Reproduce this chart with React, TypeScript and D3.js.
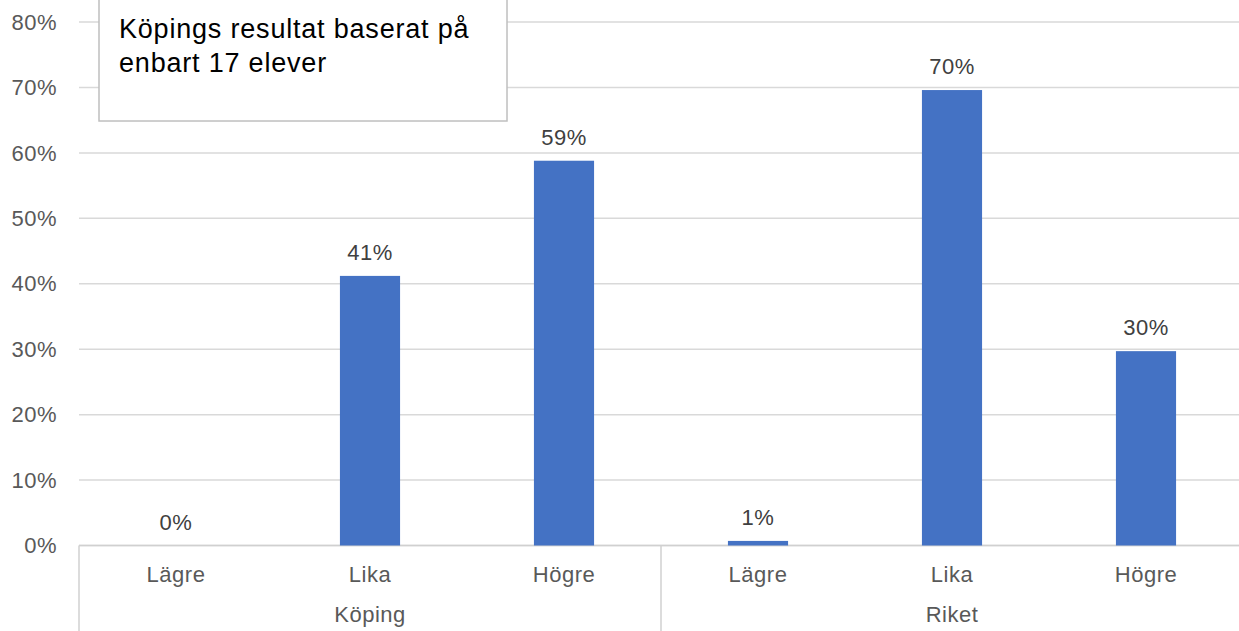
import React from 'react';
import * as d3 from 'd3';

// chart data
const groups = ['Köping', 'Riket'];
const levels = ['Lägre', 'Lika', 'Högre'];
const kopingValues = [0, 0.412, 0.588];
const riketValues = [0.007, 0.696, 0.297];
const yTicks = [0, 0.1, 0.2, 0.3, 0.4, 0.5, 0.6, 0.7, 0.8];
const noteLines = ['Köpings resultat baserat på', 'enbart 17 elever'];

const WIDTH = 1239;
const HEIGHT = 631;
const FONT = '"Liberation Sans", Arial, sans-serif';

const App: React.FC = () => {
  const rows = groups.flatMap((g, gi) =>
    levels.map((l, li) => ({
      key: `${g}|${l}`,
      group: g,
      level: l,
      value: (gi === 0 ? kopingValues : riketValues)[li]
    }))
  );

  const x = d3.scaleBand<string>()
    .domain(rows.map(r => r.key))
    .range([79, 1243])
    .paddingInner(0.69)
    .paddingOuter(0.345);

  const y = d3.scaleLinear()
    .domain([0, 0.8])
    .range([545.5, 22]);

  const fmt = d3.format('.0%');
  const step = x.step();
  const x0 = x.range()[0];
  const labelStyle = { letterSpacing: '0.5px' };

  return (
    <svg
      width={WIDTH}
      height={HEIGHT}
      style={{ position: 'absolute', left: 0, top: 0, background: '#fff' }}
      fontFamily={FONT}
    >
      {/* gridlines */}
      {yTicks.map(t => (
        <line
          key={t}
          x1={79}
          x2={1243}
          y1={y(t)}
          y2={y(t)}
          stroke="#d9d9d9"
          strokeWidth={1.5}
        />
      ))}

      {/* y tick labels */}
      {yTicks.map(t => (
        <text
          key={t}
          x={57}
          y={y(t)}
          dy="0.35em"
          textAnchor="end"
          fontSize={22}
          fill="#595959"
          style={labelStyle}
        >
          {fmt(t)}
        </text>
      ))}

      {/* category axis */}
      <line x1={79} x2={1243} y1={y(0)} y2={y(0)} stroke="#d0d0d0" strokeWidth={1.5} />
      {d3.range(groups.length + 1).map(i => (
        <line
          key={i}
          x1={x0 + i * step * levels.length}
          x2={x0 + i * step * levels.length}
          y1={y(0)}
          y2={HEIGHT}
          stroke="#d0d0d0"
          strokeWidth={1.5}
        />
      ))}

      {/* bars */}
      {rows.map(r => (
        <rect
          key={r.key}
          x={x(r.key)}
          y={y(r.value)}
          width={x.bandwidth()}
          height={y(0) - y(r.value)}
          fill="#4472C4"
        />
      ))}

      {/* data labels */}
      {rows.map(r => (
        <text
          key={r.key}
          x={(x(r.key) || 0) + x.bandwidth() / 2}
          y={y(r.value) - 16}
          textAnchor="middle"
          fontSize={22}
          fill="#404040"
          style={labelStyle}
        >
          {fmt(r.value)}
        </text>
      ))}

      {/* level labels */}
      {rows.map(r => (
        <text
          key={r.key}
          x={(x(r.key) || 0) + x.bandwidth() / 2}
          y={582}
          textAnchor="middle"
          fontSize={22}
          fill="#595959"
          style={labelStyle}
        >
          {r.level}
        </text>
      ))}

      {/* group labels */}
      {groups.map((g, i) => (
        <text
          key={g}
          x={x0 + (i + 0.5) * step * levels.length}
          y={622}
          textAnchor="middle"
          fontSize={22}
          fill="#595959"
          style={labelStyle}
        >
          {g}
        </text>
      ))}

      {/* note box */}
      <rect x={99} y={-2} width={408} height={123} fill="#fff" stroke="#bfbfbf" strokeWidth={1.5} />
      {noteLines.map((line, i) => (
        <text key={i} x={119} y={38 + i * 34} fontSize={27} fill="#000" style={{ letterSpacing: '0.8px' }}>
          {line}
        </text>
      ))}
    </svg>
  );
};

export default App;
